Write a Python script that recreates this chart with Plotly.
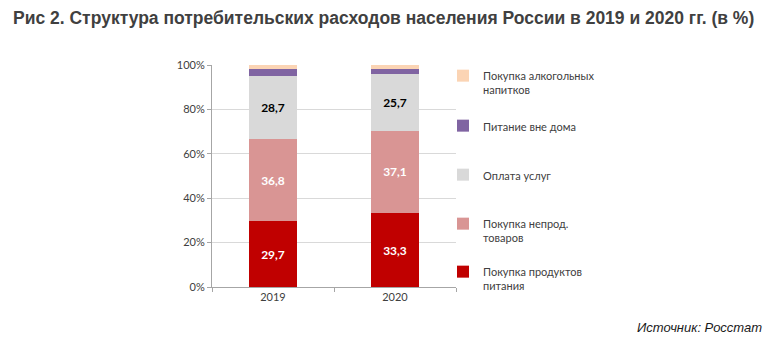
import plotly.graph_objects as go

years = ["2019", "2020"]
food = [29.7, 33.3]
nonfood = [36.8, 37.1]
services = [28.7, 25.7]
eating_out = [3.2, 2.3]
alcohol = [1.6, 1.6]

names = ["Покупка продуктов<br>питания", "Покупка непрод.<br>товаров", "Оплата услуг",
         "Питание вне дома", "Покупка алкогольных<br>напитков"]
series = [food, nonfood, services, eating_out, alcohol]
colors = ["#C00000", "#D99594", "#D9D9D9", "#8064A2", "#FBD4B4"]
label_colors = ["white", "white", "black", None, None]
legend_ids = ["legend5", "legend4", "legend3", "legend2", "legend"]
legend_tops = [258, 210, 161, 112, 62]

BASE = "Lato, 'Open Sans', sans-serif"

fig = go.Figure()
for name, vals, col, lc, lid in zip(names, series, colors, label_colors, legend_ids):
    fig.add_trace(go.Bar(
        x=years, y=vals, name=name, marker=dict(color=col, line=dict(width=0)),
        text=vals if lc else None,
        texttemplate="%{y:.1f}" if lc else None,
        textposition="inside" if lc else "none",
        insidetextanchor="middle",
        textfont=dict(color=lc or "black", size=12, family=BASE, weight="bold"),
        legend=lid, hoverinfo="skip",
    ))

layout_legends = {}
for lid, top in zip(legend_ids, legend_tops):
    layout_legends[lid] = dict(
        x=443 / 784, y=1 - top / 346, xref="container", yref="container",
        xanchor="left", yanchor="top", valign="top",
        font=dict(size=11, family=BASE, color="#404040"),
        bgcolor="rgba(0,0,0,0)", itemclick=False, itemdoubleclick=False,
    )

L, R, T, B = 212, 328, 65, 59
pw = 784 - L - R
ph = 346 - T - B

fig.update_layout(
    width=784, height=346,
    margin=dict(l=L, r=R, t=T, b=B, autoexpand=False),
    barmode="stack", bargap=0.6,
    separators=", ",
    paper_bgcolor="white", plot_bgcolor="white",
    showlegend=True,
    font=dict(family=BASE, size=11, color="#404040"),
    xaxis=dict(type="category", showline=True, linecolor="#A6A6A6", linewidth=1,
               ticks="outside", tickson="boundaries", ticklen=4, tickcolor="#A6A6A6",
               tickfont=dict(size=11, color="#404040", family=BASE), showgrid=False),
    yaxis=dict(range=[0, 100], dtick=20, ticksuffix="%", showline=True,
               linecolor="#A6A6A6", linewidth=1, gridcolor="#D9D9D9", gridwidth=1,
               ticks="outside", ticklen=4, tickcolor="#A6A6A6",
               tickfont=dict(size=11, color="#404040", family=BASE), zeroline=False),
    title=dict(text="<b>Рис 2. Структура потребительских расходов населения России в 2019 и 2020 гг. (в %)</b>",
               x=13 / 784, xanchor="left", xref="container", y=1 - 18 / 346, yanchor="middle",
               font=dict(family="'Liberation Sans', Arial, sans-serif", size=17.5, color="#404040")),
    annotations=[dict(text="<i>Источник: Росстат</i>",
                      x=(764 - L) / pw, y=(346 - B - 327) / ph,
                      xref="paper", yref="paper",
                      showarrow=False, xanchor="right", yanchor="middle",
                      font=dict(family="'Liberation Sans', Arial, sans-serif", size=13, color="#1a1a1a"))],
    **layout_legends,
)

fig.write_html("out.html")
